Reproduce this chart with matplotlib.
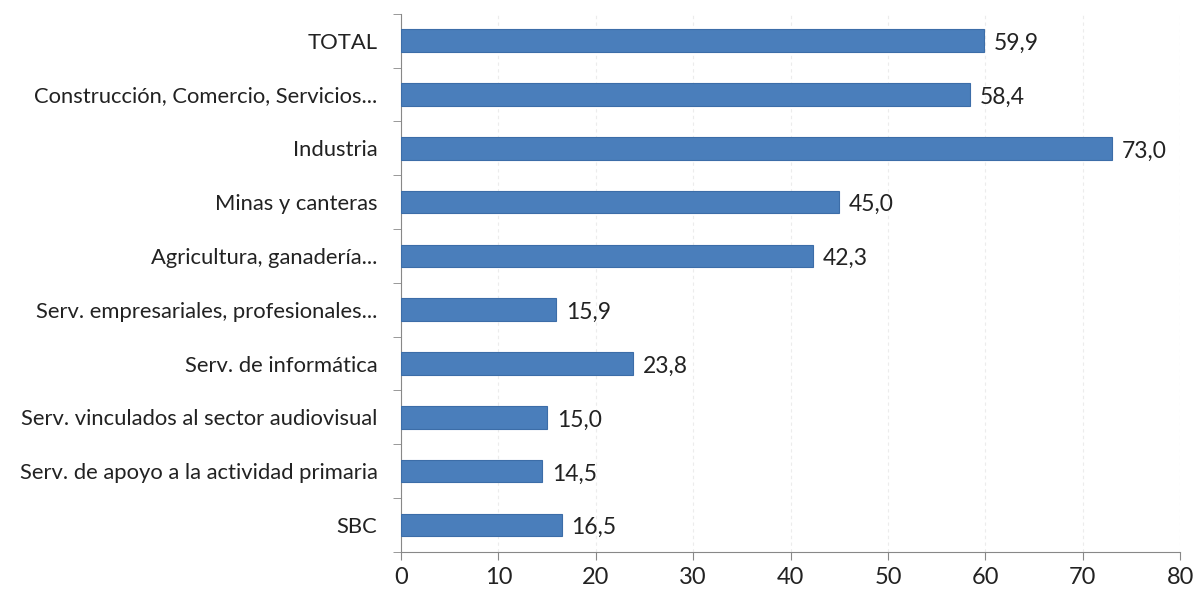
import matplotlib
matplotlib.use("Agg")
import matplotlib.pyplot as plt

categories = ["TOTAL", "Construcción, Comercio, Servicios...", "Industria",
              "Minas y canteras", "Agricultura, ganadería...",
              "Serv. empresariales, profesionales...", "Serv. de informática",
              "Serv. vinculados al sector audiovisual",
              "Serv. de apoyo a la actividad primaria", "SBC"]
values = [59.9, 58.4, 73.0, 45.0, 42.3, 15.9, 23.8, 15.0, 14.5, 16.5]
value_labels = ["59,9", "58,4", "73,0", "45,0", "42,3", "15,9", "23,8", "15,0", "14,5", "16,5"]
xticks = [0, 10, 20, 30, 40, 50, 60, 70, 80]

plt.rcParams['font.family'] = ['Lato', 'DejaVu Sans']

fig = plt.figure(figsize=(11.97, 5.96), dpi=100)
ax = fig.add_axes([0.335, 0.074, 0.651, 0.903])

n = len(categories)
ypos = list(range(n))
ax.barh(ypos, values, height=0.42, color="#4A7EBB", edgecolor="#3C6DA8", linewidth=0.8, zorder=3)
for y, v, lab in zip(ypos, values, value_labels):
    ax.text(v + 1.0, y + 0.05, lab, va="center", ha="left", fontsize=16.5, color="#222222")

ax.set_ylim(n - 0.5, -0.5)
ax.set_xlim(0, 80)
ax.set_xticks(xticks)
ax.set_xticklabels([str(t) for t in xticks], fontsize=17, color="#222222")
ax.set_yticks(ypos)
ax.set_yticklabels(categories, fontsize=15.8, color="#222222")
ax.set_yticks([i + 0.5 for i in range(-1, n)], minor=True)
ax.tick_params(axis="y", which="major", length=0, pad=17)
ax.tick_params(axis="y", which="minor", length=6, color="#888888", direction="out")
ax.tick_params(axis="x", length=6, color="#888888", direction="out", pad=5)

ax.xaxis.grid(True, linestyle=(0, (3, 3)), color="#ececec", linewidth=0.8, zorder=0)
for s in ["top", "right"]:
    ax.spines[s].set_visible(False)
ax.spines["left"].set_color("#888888")
ax.spines["bottom"].set_color("#888888")

fig.savefig("out.png", dpi=100)
